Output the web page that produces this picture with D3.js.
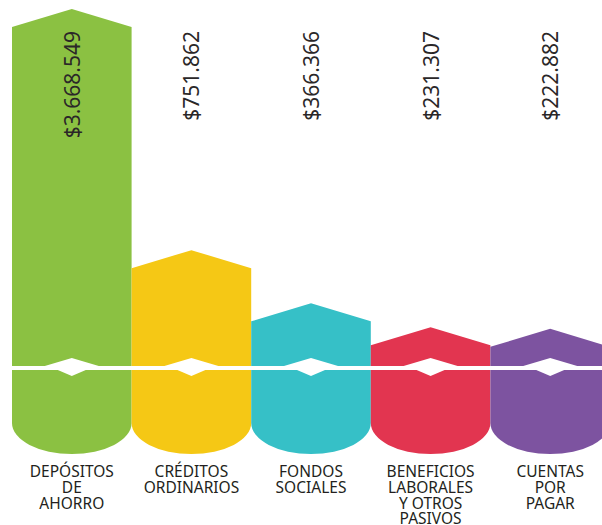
<!DOCTYPE html>
<html>
<head>
<meta charset="utf-8">
<script src="https://cdn.jsdelivr.net/npm/d3@7"></script>
<style>
  body { margin: 0; background: #fff; }
  svg { display: block; }
</style>
</head>
<body>
<script>
// data
const categories = ["DEPÓSITOS DE AHORRO", "CRÉDITOS ORDINARIOS", "FONDOS SOCIALES", "BENEFICIOS LABORALES Y OTROS PASIVOS", "CUENTAS POR PAGAR"];
const labelLines = [["DEPÓSITOS", "DE", "AHORRO"], ["CRÉDITOS", "ORDINARIOS"], ["FONDOS", "SOCIALES"], ["BENEFICIOS", "LABORALES", "Y OTROS", "PASIVOS"], ["CUENTAS", "POR", "PAGAR"]];
const values = [3668549, 751862, 366366, 231307, 222882];
const colors = ["#8bc142", "#f5c815", "#36c0c7", "#e23550", "#7d53a0"];

const width = 602, height = 525;
const roof = 18;        // height of the pointed top
const bottomY = 423;    // where the rounded bottom starts
const bottomRy = 31;
const cutY = 368;       // white cut line

const svg = d3.select("body").append("svg")
  .attr("width", width)
  .attr("height", height);

const x = d3.scaleBand().domain(categories).range([12, 610]).padding(0);
// picture is not to a linear scale; a power scale fits it well
const y = d3.scalePow().exponent(0.6).domain([0, d3.max(values)]).range([420, 27]);

const fmt = v => "$" + d3.format(",")(v).replace(/,/g, ".");

const data = categories.map((c, i) => ({ cat: c, value: values[i], color: colors[i], lines: labelLines[i] }));

function barPath(d){
  let x0 = x(d.cat), x1 = x0 + x.bandwidth(), cx = x0 + x.bandwidth() / 2;
  let top = y(d.value);
  return `M${x0},${top} L${cx},${top - roof} L${x1},${top} L${x1},${bottomY}` +
    ` A${x.bandwidth() / 2},${bottomRy} 0 0 1 ${x0},${bottomY} Z`;
}

svg.selectAll("path.bar").data(data).enter().append("path")
  .attr("class", "bar")
  .attr("d", barPath)
  .attr("fill", d => d.color);

// white cut across the bars
svg.append("rect")
  .attr("x", x.range()[0])
  .attr("y", cutY - 2)
  .attr("width", width - x.range()[0])
  .attr("height", 4)
  .attr("fill", "#fff");

svg.selectAll("polygon.notch").data(data).enter().append("polygon")
  .attr("class", "notch")
  .attr("fill", "#fff")
  .attr("points", d => {
    let cx = x(d.cat) + x.bandwidth() / 2;
    return [[cx - 27, cutY - 2], [cx, cutY - 10], [cx + 27, cutY - 2], [cx + 14, cutY + 2], [cx, cutY + 8], [cx - 14, cutY + 2]]
      .map(p => p.join(",")).join(" ");
  });

// values, vertical
svg.selectAll("text.value").data(data).enter().append("text")
  .attr("class", "value")
  .attr("transform", d => `translate(${x(d.cat) + x.bandwidth() / 2},31) rotate(-90)`)
  .attr("text-anchor", "end")
  .attr("dominant-baseline", "central")
  .attr("font-family", "'Noto Sans', sans-serif")
  .attr("font-size", 21)
  .attr("fill", "#2a2728")
  .text(d => fmt(d.value));

// category labels
let labels = svg.selectAll("text.cat").data(data).enter().append("text")
  .attr("class", "cat")
  .attr("transform", d => `translate(${x(d.cat) + x.bandwidth() / 2},0)`)
  .attr("text-anchor", "middle")
  .attr("font-family", "'Noto Sans', sans-serif")
  .attr("font-size", 15.5)
  .attr("fill", "#231f20");

labels.selectAll("tspan").data(d => d.lines)
  .enter().append("tspan")
  .attr("x", 0)
  .attr("y", (d, i) => 476.7 + i * 15.9)
  .text(d => d);
</script>
</body>
</html>
